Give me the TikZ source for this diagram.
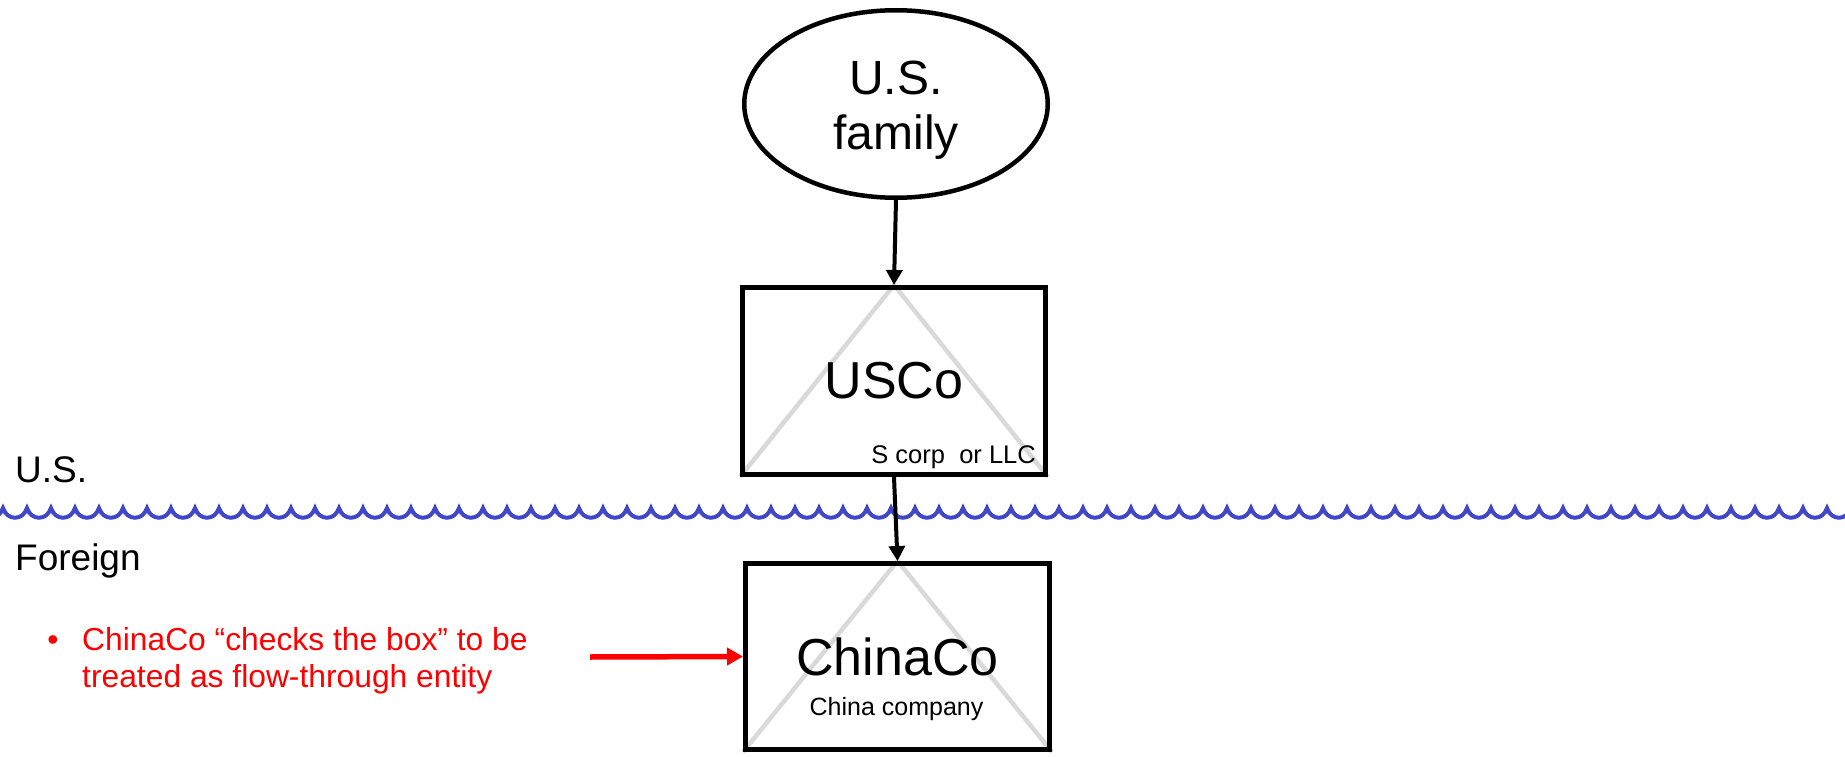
\documentclass[tikz,border=0pt]{standalone}
\usepackage{fontspec}
\setmainfont{Liberation Sans}
\usetikzlibrary{shapes.geometric,arrows.meta,backgrounds}
\definecolor{wavecol}{RGB}{64,72,200}
\definecolor{trigray}{RGB}{217,217,217}
\begin{document}
\begin{tikzpicture}[x=1pt,y=-1pt,
  entity/.style={draw=black,line width=5pt,rectangle,inner sep=0pt,font=\fontsize{52}{56}\selectfont},
  famshape/.style={draw=black,line width=4.5pt,ellipse,inner sep=0pt,minimum width=303.5pt,minimum height=187.5pt},
  bigtext/.style={font=\fontsize{48}{55}\selectfont,align=center,inner sep=0pt},
  smalltext/.style={font=\fontsize{25.5}{30}\selectfont,inner sep=0pt},
  sidetext/.style={font=\fontsize{37}{44}\selectfont,inner sep=0pt,anchor=base west},
  notetext/.style={font=\fontsize{31.8}{37}\selectfont,text=red,inner sep=0pt},
  own/.style={line width=4pt,-{Triangle[length=15pt,width=16pt]}},
  note/.style={red,line width=5.5pt,-{Triangle[length=16pt,width=17pt]}},
  tri/.style={draw=trigray,line width=4.5pt},
  wave/.style={draw=wavecol,line width=4pt,line join=miter}]
\useasboundingbox (0,0) rectangle (1845,757);

% wavy border line
\draw[wave] (-21,508) \foreach \i in {1,...,79} { .. controls +(4,13) and +(-4,13) .. ++(24,0) };

% U.S. family
\node[famshape] (fam) at (896,104) {};
\node[bigtext] (famtext) at (896,110) {U.S.\\family};

% USCo
\node[entity,minimum width=303pt,minimum height=187pt] (usco) at (894,381) {USCo};
\node[smalltext,anchor=base east] (uscotype) at (1036,463) {S corp~ or LLC};

% ChinaCo
\node[entity,minimum width=304pt,minimum height=186pt] (china) at (897.5,656.5) {ChinaCo};
\node[smalltext,font=\fontsize{25}{30}\selectfont,anchor=base] (chinatype) at (896.5,715) {China company};

% grey triangles inside the boxes
\begin{scope}[on background layer]
  \draw[tri] (usco.south west) -- (usco.north) -- (usco.south east);
  \draw[tri] (china.south west) -- (china.north) -- (china.south east);
\end{scope}

% side labels
\node[sidetext] (uslabel) at (15,482) {U.S.};
\node[sidetext] (foreignlabel) at (15,570) {Foreign};

% note
\node[notetext,anchor=base] (bullet) at (53,650) {•};
\node[notetext,anchor=north west,align=left,text depth=0pt] (notebody) at (82,627) {ChinaCo “checks the box” to be\\treated as flow-through entity};
\coordinate (notestart) at (590,657);

% connectors
\draw[own] (fam.south) -- (usco.north);
\draw[own] (usco.south) -- (china.north);
\draw[note] (notestart) -- (china.west);
\end{tikzpicture}
\end{document}
